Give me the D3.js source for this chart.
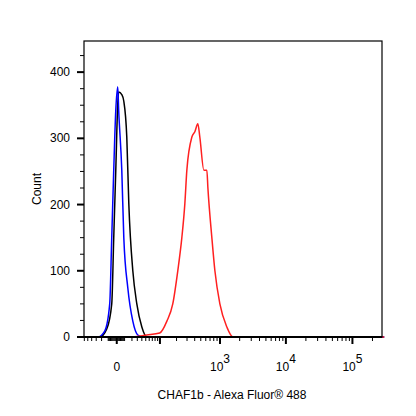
<!DOCTYPE html><html><head><script src="https://cdn.jsdelivr.net/npm/d3@7"></script>
<style>body{margin:0;background:#fff}text{font-family:"Liberation Sans",Arial,sans-serif;}</style></head><body>
<script>
const blueX=[-60,-27,-15,-8,-5.5,-3.2,-1,1,2,5.5,8,13.5,21.5,31,42,300000];
const blueY=[0,0,9,50,150,252,342,378,342,252,150,74,24,3,0,0];
const blackX=[-60,-23,-12,-5.5,-3.2,-1,1,2,5.5,8,12,15,21.5,29,40,53,300000];
const blackY=[0,0,12,50,150,252,352,370,366,356,302,201,100,50,15,0,0];
const redX=[-60,16.5,53,99,135,172,210,246,276,298,360,402,449,483,560,624,647,747,833,995,1275,1577,300000];
const redY=[0,0,3,6,24,50,100,150,201,252,302,310,322,302,252,252,226,150,100,50,15,0,0];
const yTicks=[0,100,200,300,400];
const xLabels=[{v:0,b:"0",e:""},{v:1e3,b:"10",e:"3"},{v:1e4,b:"10",e:"4"},{v:1e5,b:"10",e:"5"}];
const xTitle="CHAF1b - Alexa Fluor® 488", yTitle="Count";

const svg=d3.select("body").append("svg").attr("width",416).attr("height",416);
const L=84,R=382,T=41,B=337;
const x=d3.scaleSymlog().constant(29).domain([-61,278000]).range([L,R]);
const y=d3.scaleLinear().domain([0,447]).range([B,T]);
const line=d3.line().x(d=>x(d[0])).y(d=>y(d[1])).curve(d3.curveMonotoneX);
const g=svg.append("g");
[[blackX,blackY,"#000"],[blueX,blueY,"#0000ff"],[redX,redY,"#ff2020"]].forEach(([xs,ys,c])=>{
 g.append("path").attr("d",line(xs.map((v,i)=>[v,ys[i]]))).attr("fill","none").attr("stroke",c).attr("stroke-width",1.5);
});
svg.append("rect").attr("x",L).attr("y",T).attr("width",R-L).attr("height",B-T).attr("fill","none").attr("stroke","#000").attr("stroke-width",1.2);
svg.append("line").attr("x1",L).attr("x2",R).attr("y1",B).attr("y2",B).attr("stroke","#000").attr("stroke-width",2);
for(let v=0;v<=425;v+=25){const maj=v%100===0;
 svg.append("line").attr("x1",L).attr("x2",L-(maj?7:4)).attr("y1",y(v)).attr("y2",y(v)).attr("stroke","#000").attr("stroke-width",maj?2:1);}
yTicks.forEach(v=>svg.append("text").attr("x",70).attr("y",y(v)+4).attr("text-anchor","end").attr("font-size",12).text(v));
const minors=[];
for(let k=1;k<=5;k++)for(let m=2;m<=9;m++){const v=m*Math.pow(10,k);if(v<278000)minors.push(v);}
for(let m=1;m<=6;m++)minors.push(-m*10);
for(let m=1;m<=9;m++)minors.push(m);for(let m=1;m<=9;m++)minors.push(-m);
minors.forEach(v=>svg.append("line").attr("x1",x(v)).attr("x2",x(v)).attr("y1",B).attr("y2",B+4).attr("stroke","#000").attr("stroke-width",1));
[0,100,1e3,1e4,1e5].forEach(v=>svg.append("line").attr("x1",x(v)).attr("x2",x(v)).attr("y1",B).attr("y2",B+7).attr("stroke","#000").attr("stroke-width",2));
xLabels.forEach(d=>{const t=svg.append("text").attr("x",x(d.v)).attr("y",371).attr("text-anchor","middle").attr("font-size",12);
 t.append("tspan").text(d.b); if(d.e) t.append("tspan").attr("dy",-8).attr("font-size",12).text(d.e);});
svg.append("text").attr("x",232).attr("y",399).attr("text-anchor","middle").attr("font-size",12).text(xTitle);
svg.append("text").attr("transform","translate(41,189) rotate(-90)").attr("text-anchor","middle").attr("font-size",12).text(yTitle);
</script></body></html>
